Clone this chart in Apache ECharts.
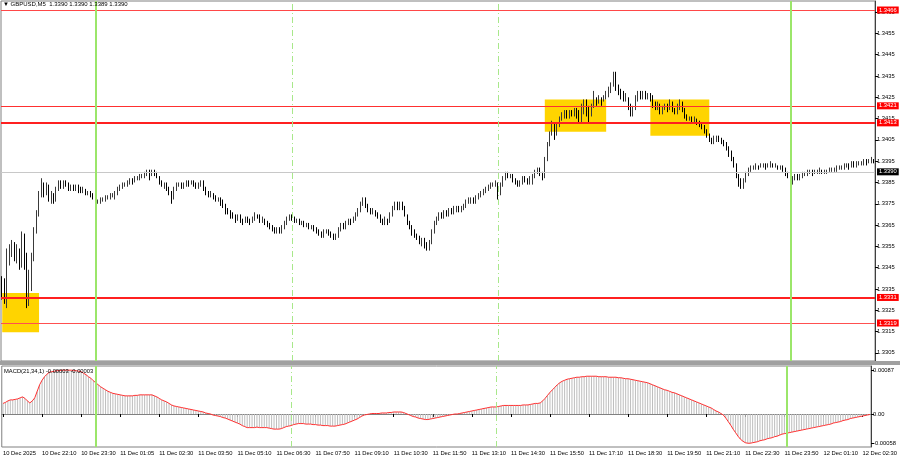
<!DOCTYPE html>
<html><head><meta charset="utf-8">
<script src="https://cdn.jsdelivr.net/npm/echarts@6/dist/echarts.min.js"></script>
<style>html,body{margin:0;padding:0;background:#fff}#c{width:900px;height:460px}</style>
</head><body><div id="c"></div>
<script>
// ---------- data (prices in pips above BASE) ----------
const BASE = 1.3300, PIP = 0.0001;
const firstOpen = 38;
const closes = [
36,32,48,52,55,50,53,46,58,50, 30,36,50,62,70,79,84,80,83,77,
78,76,82,84,83,85,84,82,83,82, 83,82,81,82,80,80,79,78,76,76,
77,77,78,78,79,79,80,82,83,84, 84,85,86,85,87,87,88,88,89,90,
89,90,89,88,85,84,84,82,80,77, 82,84,84,83,84,85,84,85,84,83,
84,85,82,80,79,80,78,77,77,76, 74,72,71,70,69,68,69,67,66,68,
67,66,68,70,69,67,68,66,65,64, 63,62,63,62,64,66,68,69,68,67,
67,66,66,65,65,64,64,63,62,61, 60,62,62,61,60,59,60,63,65,64,
66,67,66,68,70,72,75,77,74,72, 71,72,70,69,67,66,68,67,70,73,
74,73,75,73,70,66,64,62,60,59, 57,58,55,54,57,62,66,68,70,69,
71,70,72,71,72,73,72,73,74,76, 76,77,76,78,79,80,81,82,83,84,
84,85,79,84,87,89,88,88,86,85, 84,85,87,86,85,85,88,90,91,89,
87,96,103,108,112,108,112,115,116,117, 116,118,117,119,117,114,118,122,120,117,
121,124,123,124,123,125,127,128,131,134, 130,128,127,124,125,121,117,120,124,127,
126,127,125,126,125,122,120,121,118,120, 121,120,122,119,118,120,122,119,116,115,
115,114,115,113,112,111,109,107,105,104, 106,106,105,104,103,101,99,96,93,88,
85,84,86,89,91,92,92,93,92,93, 93,92,93,94,93,93,92,92,91,89,
88,85,87,88,87,88,89,89,90,90, 89,90,90,91,90,90,90,91,91,91,
92,92,92,93,93,92,94,93,94,94, 94,95,94,95,96,95];
const lows = [
30,28,26,46,50,48,47,44,45,44, 26,27,34,48,61,69,78,78,79,76,
75,75,76,81,82,82,83,81,81,81, 81,80,80,80,79,79,78,77,75,75,
75,76,76,77,77,78,77,79,81,82, 83,83,84,84,85,86,86,87,87,88,
86,88,88,87,84,83,82,81,79,75, 77,81,83,82,82,83,83,84,83,82,
82,83,81,79,78,78,77,76,76,74, 73,70,70,68,68,66,67,66,65,66,
66,65,66,67,68,66,66,65,64,63, 62,61,61,61,61,63,65,67,67,66,
66,65,65,64,64,63,63,62,61,60, 59,59,61,60,59,58,58,59,62,63,
63,65,65,66,67,69,71,74,73,71, 70,70,69,68,66,65,65,65,66,69,
72,72,72,72,69,65,63,60,59,58, 56,55,54,53,53,56,61,65,67,68,
68,69,69,70,70,71,71,71,72,73, 75,75,75,75,77,78,79,80,81,82,
83,83,77,79,83,86,87,87,85,84, 83,83,84,85,84,84,84,87,89,88,
86,87,95,102,107,105,107,111,114,115, 115,115,116,116,115,113,113,117,116,113,
116,120,121,122,121,123,124,125,127,130, 128,126,124,123,123,119,116,116,119,123,
124,124,124,124,123,120,119,119,117,117, 119,118,119,118,117,117,119,118,115,114,
114,113,113,112,111,110,108,106,104,103, 103,104,104,103,102,100,97,95,92,87,
83,82,82,85,88,90,91,91,91,92, 92,91,92,92,92,92,91,91,90,88,
87,83,84,86,86,86,87,88,88,89, 88,89,89,89,89,89,89,90,90,90,
90,91,91,91,92,91,92,92,92,93, 93,93,93,94,94,94];
const highs = [
41,40,54,56,58,57,56,54,62,61, 52,44,52,64,72,81,87,85,85,84,
81,80,83,86,86,86,86,85,84,84, 84,84,83,83,82,81,81,80,78,77,
78,78,79,79,80,80,81,83,84,85, 85,86,87,87,88,88,89,89,90,91,
91,91,91,90,88,86,85,85,83,81, 83,85,85,85,85,86,86,86,86,85,
85,86,86,83,81,81,80,79,78,78, 77,75,73,72,71,70,70,70,68,69,
69,68,69,71,70,70,69,68,67,66, 65,64,64,64,65,67,69,70,70,69,
68,68,67,67,66,66,65,65,64,63, 62,63,63,63,62,61,61,64,66,66,
67,68,68,69,71,73,76,78,78,75, 73,73,72,71,70,68,69,68,71,74,
76,76,76,76,74,70,67,65,63,61, 60,59,59,57,58,63,67,69,71,71,
72,72,73,73,74,74,74,74,75,77, 78,78,78,79,80,81,82,83,84,85,
85,86,85,85,88,90,90,89,89,87, 86,86,88,88,87,88,89,91,92,92,
90,97,104,109,114,113,113,116,118,119, 119,119,119,120,120,119,122,124,124,121,
122,128,125,126,125,126,128,130,132,137, 137,131,129,128,127,125,122,121,126,128,
128,128,128,127,127,126,123,123,122,121, 122,122,124,123,120,122,124,123,120,117,
116,116,116,115,114,113,112,110,108,106, 107,107,107,106,105,104,102,100,97,94,
89,87,87,90,92,93,93,94,93,94, 94,94,94,95,94,94,93,93,93,92,
90,88,88,89,89,89,90,90,91,91, 91,91,91,92,91,91,91,92,92,92,
93,93,93,94,94,94,95,95,95,95, 95,96,96,96,97,96];
// MACD(21,34,1) main values in units of 0.00001
const macd = [
21,23,26,28,28,29,30,32,34,31, 26,22,26,32,45,58,67,74,79,83,
84,85,86,86,87,87,87,87,87,86, 86,85,84,81,78,74,71,66,62,58,
54,51,48,45,43,41,40,39,38,37, 36,36,36,36,37,37,38,38,38,38,
38,38,36,34,31,28,26,24,21,18, 16,15,14,13,12,11,10,9,8,7,
6,5,4,2,1,0,-2,-3,-4,-5, -7,-8,-10,-12,-14,-16,-18,-20,-23,-25,
-27,-27,-27,-27,-26,-27,-27,-27,-27,-28, -29,-30,-30,-30,-29,-27,-25,-24,-23,-21,
-20,-19,-19,-19,-20,-20,-20,-21,-21,-22, -22,-23,-23,-23,-24,-24,-24,-23,-22,-21,
-20,-18,-16,-14,-12,-10,-7,-4,-2,-1, 0,1,1,1,1,2,2,2,3,3,
4,4,4,4,3,1,-1,-3,-5,-6, -8,-9,-10,-11,-11,-10,-9,-8,-7,-6,
-5,-4,-3,-2,-1,0,0,1,2,3, 4,5,6,7,8,9,10,11,12,13,
14,14,14,15,16,17,17,17,17,17, 17,17,17,18,18,18,19,20,21,21,
22,26,31,37,43,48,53,58,62,65, 67,69,70,71,72,73,73,74,74,75,
75,75,75,75,74,74,74,74,73,73, 73,73,72,72,71,70,70,69,68,67,
66,65,64,63,62,60,58,56,54,52, 50,48,47,45,43,42,40,38,36,34,
32,30,28,26,24,22,20,18,16,14, 12,9,6,4,1,-2,-8,-15,-22,-30,
-37,-44,-50,-54,-57,-58,-58,-57,-56,-55, -53,-52,-51,-49,-48,-47,-45,-44,-42,-40,
-39,-38,-37,-36,-35,-34,-33,-32,-31,-30, -29,-28,-27,-26,-25,-24,-23,-22,-21,-20,
-18,-17,-16,-15,-13,-12,-11,-9,-8,-7, -6,-5,-4,-3,-2,-1];
const tickIdx = [0,16,32,48,64,80,96,112,128,144,160,176,192,208,224,240,256,272,288,304,320,336,352];
const tickLabels = ['10 Dec 2025','10 Dec 22:10','10 Dec 23:30','11 Dec 01:05','11 Dec 02:30','11 Dec 03:50',
 '11 Dec 05:10','11 Dec 06:30','11 Dec 07:50','11 Dec 09:10','11 Dec 10:30','11 Dec 11:50','11 Dec 13:10',
 '11 Dec 14:30','11 Dec 15:50','11 Dec 17:10','11 Dec 18:30','11 Dec 19:50','11 Dec 21:10','11 Dec 22:30',
 '11 Dec 23:50','12 Dec 01:10','12 Dec 02:30'];
const priceTicks = [1.3305,1.3315,1.3325,1.3335,1.3345,1.3355,1.3365,1.3375,1.3385,1.3395,1.3405,1.3415,1.3425,1.3435,1.3445,1.3455,1.3465];
const macdTicks = [0.00087, 0, -0.00058];
const macdTickLabels = ['0.00087', '0.00', '-0.00058'];
const levels = [1.3466, 1.3421, 1.3413, 1.3331, 1.3319];
const bid = 1.3390;
// rectangles: [firstBar, lastBar, top price, bottom price]
const zones = [[0,15,1.33331,1.33147],[221,246,1.34240,1.34088],[264,288,1.34240,1.34069]];
const dayLines = [38, 321];
const sessionLines = [118, 202];
const title = '\u25BC GBPUSD,M5  1.3390 1.3390 1.3389 1.3390';
const macdTitle = 'MACD(21,34,1) -0.00003 -0.00003';

// ---------- build ----------
const cats = closes.map((_, i) => String(i));
const candles = closes.map((c, i) => {
  const o = i === 0 ? firstOpen : closes[i - 1];
  const l = Math.min(lows[i], o, c), h = Math.max(highs[i], o, c);
  return [BASE + o * PIP, BASE + c * PIP, BASE + l * PIP, BASE + h * PIP];
});
const macdVals = macd.map(v => v * 1e-5);
const FONT = 'Liberation Sans';
const FS = 5.8;
const isTick = (i) => tickIdx.indexOf(i) >= 0;

const levelStyle = [
  {color:'#ff4848', width:1}, {color:'#ff3030', width:1}, {color:'#ff2020', width:2},
  {color:'#ff2020', width:2}, {color:'#ff5050', width:1}
];
const badge = (bg) => ({show:true, position:'end', distance:2, formatter:(p)=>Number(p.value).toFixed(4),
  backgroundColor:bg, color:'#fff', padding:[1,2,0,2], fontSize:FS, fontFamily:FONT});

const hLines = levels.map((v, k) => ({yAxis:v, lineStyle:{color:levelStyle[k].color, width:levelStyle[k].width, type:'solid'}, label:badge('#ff0000')}));
hLines.push({yAxis:bid, lineStyle:{color:'#c8c8c8', width:1, type:'solid'}, label:badge('#000000')});
const vLines = dayLines.map(i => ({xAxis:i, lineStyle:{color:'#9be66a', width:2, type:'solid'}, label:{show:false}}))
  .concat(sessionLines.map(i => ({xAxis:i, lineStyle:{color:'#a8e88a', width:1, type:[6,3,1,3]}, label:{show:false}})));

const yMin0 = 1.330116;  // pane bottom
const yMax0 = 1.347023;  // pane top

const chart = echarts.init(document.getElementById('c'), null, {renderer:'canvas'});
chart.setOption({
  animation:false,
  backgroundColor:'#fff',
  title:[
    {text:title, left:3, top:1, padding:0, textStyle:{fontSize:6, fontWeight:'normal', color:'#000', fontFamily:FONT}},
    {text:macdTitle, left:4, top:368, padding:0, textStyle:{fontSize:FS, fontWeight:'normal', color:'#000', fontFamily:FONT}}
  ],
  graphic:[{type:'rect', shape:{x:0, y:361, width:900, height:4}, style:{fill:'#a0a0a0'}, z:100}],
  grid:[
    {left:1, top:1, width:874, height:360, show:true, borderColor:'#808080', borderWidth:1, backgroundColor:'#fff'},
    {left:1, top:366, width:874, height:81, show:true, borderColor:'#808080', borderWidth:1, backgroundColor:'#fff'}
  ],
  xAxis:[
    {type:'category', gridIndex:0, data:cats, boundaryGap:true, axisLine:{show:false}, axisTick:{show:false}, axisLabel:{show:false}, splitLine:{show:false}},
    {type:'category', gridIndex:1, data:cats, boundaryGap:true,
      axisLine:{show:true, lineStyle:{color:'#808080'}},
      axisTick:{show:true, alignWithLabel:true, interval:(i)=>isTick(i), length:3, lineStyle:{color:'#000'}},
      axisLabel:{interval:(i)=>isTick(i), formatter:(v, i)=>tickLabels[tickIdx.indexOf(+v)] || '', align:'left', margin:3,
        fontSize:FS, fontFamily:FONT, color:'#000'},
      splitLine:{show:false}}
  ],
  yAxis:[
    {type:'value', gridIndex:0, position:'right', min:yMin0, max:yMax0, splitLine:{show:false},
      axisLine:{show:true, lineStyle:{color:'#404040'}},
      axisTick:{show:true, customValues:priceTicks, length:3, lineStyle:{color:'#000'}},
      axisLabel:{customValues:priceTicks, formatter:(v)=>v.toFixed(4), margin:2, fontSize:FS, fontFamily:FONT, color:'#000'}},
    {type:'value', gridIndex:1, position:'right', min:-0.000655, max:0.000953, splitLine:{show:false},
      axisLine:{show:true, lineStyle:{color:'#404040'}},
      axisTick:{show:true, customValues:macdTicks, length:3, lineStyle:{color:'#000'}},
      axisLabel:{customValues:macdTicks, formatter:(v)=>macdTickLabels[macdTicks.indexOf(v)] ?? v, margin:2, fontSize:FS, fontFamily:FONT, color:'#000'}}
  ],
  series:[
    {type:'line', xAxisIndex:0, yAxisIndex:0, data:[], z:1, silent:true,
      markArea:{silent:true, itemStyle:{color:'#ffd400', opacity:1},
        data:zones.map(z => [{xAxis:z[0], yAxis:z[2]}, {xAxis:z[1], yAxis:z[3]}])}},
    {type:'candlestick', xAxisIndex:0, yAxisIndex:0, data:candles, barWidth:1.3, z:3,
      itemStyle:{color:'#ffffff', color0:'#000000', borderColor:'#3a3a3a', borderColor0:'#000000', borderWidth:1}},
    {type:'line', xAxisIndex:0, yAxisIndex:0, data:[], z:5, silent:true,
      markLine:{silent:true, precision:6, symbol:['none','none'], animation:false, data:hLines.concat(vLines)}},
    {type:'bar', xAxisIndex:1, yAxisIndex:1, data:macdVals, barWidth:1, itemStyle:{color:'#bdbdbd'}, z:2,
      markLine:{silent:true, precision:6, symbol:['none','none'], animation:false, label:{show:false}, data:vLines}},
    {type:'line', xAxisIndex:1, yAxisIndex:1, data:macdVals, symbol:'none', z:4, lineStyle:{color:'#ff3030', width:1}}
  ]
});
</script></body></html>
